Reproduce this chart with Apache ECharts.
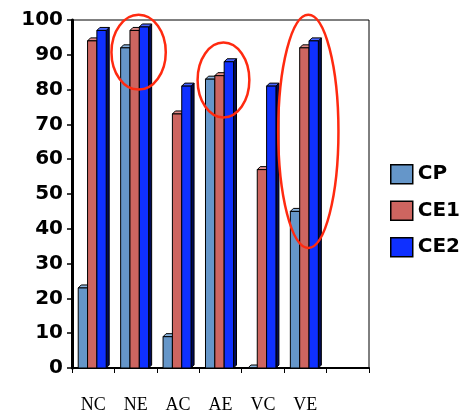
<!DOCTYPE html>
<html>
<head>
<meta charset="utf-8">
<script src="https://cdn.jsdelivr.net/npm/echarts@6/dist/echarts.min.js"></script>
<style>html,body{margin:0;padding:0;background:#fff;}#c{width:466px;height:414px;}</style>
</head>
<body>
<div id="c"></div>
<script>
// ---- data ----
const categories = ['NC', 'NE', 'AC', 'AE', 'VC', 'VE', ''];
const seriesNames = ['CP', 'CE1', 'CE2'];
const cpValues  = [23, 92, 9, 83, 0, 45];
const ce1Values = [94, 97, 73, 84, 57, 92];
const ce2Values = [97, 98, 81, 88, 81, 94];
const yTicks = [0, 10, 20, 30, 40, 50, 60, 70, 80, 90, 100];
// highlighted groups: [category, low value, high value]
const highlights = [['NE', 80, 101.5], ['AE', 72, 93.5], ['VE', 34.5, 101.5]];

// ---- styles ----
const colors = ['#6596c9', '#cd6560', '#0f30ff'];
const topColors = ['#8ab4de', '#e08c88', '#4a66ff'];
const sideColors = ['#1c2f44', '#3f1a18', '#000a55'];
const ellipseWidthFrac = [0.64, 0.61, 0.71];

const allValues = [cpValues, ce1Values, ce2Values];

function barRenderer(s) {
  return function (params, api) {
    const ci = api.value(0);
    const v = api.value(1);
    const top = api.coord([ci, v]);
    const base = api.coord([ci, 0]);
    const band = api.size([1, 0])[0];
    const w = band * 0.22;
    const d = 3;
    const x = top[0] - 1.5 * w - 1 + s * w;
    const y = top[1];
    const b = base[1];
    const stroke = {stroke: '#000', lineWidth: 1};
    return {
      type: 'group',
      children: [
        {type: 'polygon', shape: {points: [[x + w, y], [x + w + d, y - d], [x + w + d, b - d], [x + w, b]]},
          style: Object.assign({fill: sideColors[s]}, stroke)},
        {type: 'polygon', shape: {points: [[x, y], [x + d, y - d], [x + w + d, y - d], [x + w, y]]},
          style: Object.assign({fill: topColors[s]}, stroke)},
        {type: 'rect', shape: {x: x, y: y, width: w, height: b - y},
          style: Object.assign({fill: colors[s]}, stroke)}
      ]
    };
  };
}

const barSeries = seriesNames.map(function (name, s) {
  return {
    name: name,
    type: 'custom',
    renderItem: barRenderer(s),
    itemStyle: {color: colors[s]},
    encode: {x: 0, y: 1},
    data: allValues[s].map(function (v, i) { return [i, v]; }),
    z: 2 + s
  };
});

const ellipseSeries = {
  name: 'highlight',
  type: 'custom',
  silent: true,
  z: 10,
  encode: {x: 0, y: [1, 2]},
  data: highlights.map(function (h) { return [categories.indexOf(h[0]), h[1], h[2]]; }),
  renderItem: function (params, api) {
    const ci = api.value(0);
    const lo = api.coord([ci, api.value(1)]);
    const hi = api.coord([ci, api.value(2)]);
    const band = api.size([1, 0])[0];
    return {
      type: 'ellipse',
      shape: {cx: lo[0] + band * 0.07, cy: (lo[1] + hi[1]) / 2,
              rx: band * ellipseWidthFrac[params.dataIndex], ry: (lo[1] - hi[1]) / 2},
      style: {fill: null, stroke: '#ff2a10', lineWidth: 2.5}
    };
  }
};

const chart = echarts.init(document.getElementById('c'));
chart.setOption({
  animation: false,
  backgroundColor: '#fff',
  grid: {left: 72, right: 97, top: 20, bottom: 45, show: true, borderColor: '#000', borderWidth: 1},
  legend: {
    data: seriesNames,
    orient: 'vertical',
    left: 390,
    top: 164,
    padding: 0,
    itemWidth: 22,
    itemHeight: 19,
    itemGap: 16,
    icon: 'rect',
    itemStyle: {borderColor: '#000', borderWidth: 1.5},
    textStyle: {fontFamily: 'DejaVu Sans', fontWeight: 'bold', fontSize: 20, color: '#000'}
  },
  xAxis: {
    type: 'category',
    data: categories,
    boundaryGap: true,
    axisLine: {lineStyle: {color: '#000', width: 2}},
    axisTick: {show: true, length: 5, lineStyle: {color: '#000', width: 1}},
    axisLabel: {interval: 0, margin: 28, fontFamily: 'Liberation Serif', fontSize: 18, color: '#000'},
    splitLine: {show: false}
  },
  yAxis: {
    type: 'value',
    min: yTicks[0],
    max: yTicks[yTicks.length - 1],
    interval: yTicks[1] - yTicks[0],
    axisLine: {show: true, lineStyle: {color: '#000', width: 3}},
    axisTick: {show: true, length: 5, lineStyle: {color: '#000', width: 1.5}},
    axisLabel: {margin: 9, fontFamily: 'DejaVu Sans', fontWeight: 'bold', fontSize: 20, color: '#000'},
    splitLine: {show: false}
  },
  series: barSeries.concat([ellipseSeries])
});
</script>
</body>
</html>
